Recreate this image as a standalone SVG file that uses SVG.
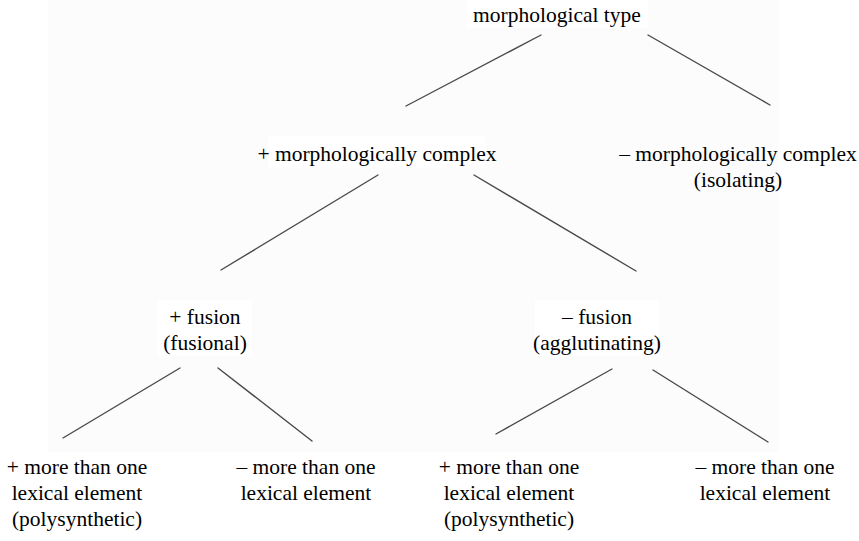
<svg xmlns="http://www.w3.org/2000/svg" width="859" height="541" viewBox="0 0 859 541">
<rect width="859" height="541" fill="#ffffff"/>
<rect x="48" y="0" width="730" height="452" fill="#fcfcfc"/>
<g id="connectors" stroke="#4a4a4a" stroke-width="1.4" stroke-linecap="round">
<line x1="541" y1="35" x2="406" y2="106"/>
<line x1="648" y1="35" x2="770" y2="105"/>
<line x1="378" y1="175" x2="221" y2="270"/>
<line x1="474" y1="175" x2="636" y2="271"/>
<line x1="180" y1="368" x2="63" y2="438"/>
<line x1="218" y1="368" x2="312" y2="441"/>
<line x1="612" y1="369" x2="496" y2="434"/>
<line x1="653" y1="370" x2="768" y2="442"/>
</g>
<g id="root"><rect fill="#ffffff" x="466" y="0" width="182" height="28"/><text font-family="Liberation Serif" font-size="21.5" text-anchor="middle" x="557" y="22">morphological type</text></g>
<g id="plus-complex"><rect fill="#ffffff" x="268" y="136" width="218" height="32"/><text font-family="Liberation Serif" font-size="21.5" text-anchor="middle" x="377" y="161">+ morphologically complex</text></g>
<g id="minus-complex"><text font-family="Liberation Serif" font-size="21.5" text-anchor="middle" x="738" y="161">&#8211; morphologically complex</text><text font-family="Liberation Serif" font-size="21.5" text-anchor="middle" x="738" y="187">(isolating)</text></g>
<g id="plus-fusion"><rect fill="#ffffff" x="158" y="300" width="94" height="56"/><text font-family="Liberation Serif" font-size="21.5" text-anchor="middle" x="205" y="324">+ fusion</text><text font-family="Liberation Serif" font-size="21.5" text-anchor="middle" x="205" y="350">(fusional)</text></g>
<g id="minus-fusion"><rect fill="#ffffff" x="535" y="300" width="124" height="56"/><text font-family="Liberation Serif" font-size="21.5" text-anchor="middle" x="597" y="324">&#8211; fusion</text><text font-family="Liberation Serif" font-size="21.5" text-anchor="middle" x="597" y="350">(agglutinating)</text></g>
<g id="fus-plus-lex"><text font-family="Liberation Serif" font-size="21.5" text-anchor="middle" x="77" y="474">+ more than one</text><text font-family="Liberation Serif" font-size="21.5" text-anchor="middle" x="77" y="500">lexical element</text><text font-family="Liberation Serif" font-size="21.5" text-anchor="middle" x="77" y="526">(polysynthetic)</text></g>
<g id="fus-minus-lex"><text font-family="Liberation Serif" font-size="21.5" text-anchor="middle" x="306" y="474">&#8211; more than one</text><text font-family="Liberation Serif" font-size="21.5" text-anchor="middle" x="306" y="500">lexical element</text></g>
<g id="agg-plus-lex"><text font-family="Liberation Serif" font-size="21.5" text-anchor="middle" x="509" y="474">+ more than one</text><text font-family="Liberation Serif" font-size="21.5" text-anchor="middle" x="509" y="500">lexical element</text><text font-family="Liberation Serif" font-size="21.5" text-anchor="middle" x="509" y="526">(polysynthetic)</text></g>
<g id="agg-minus-lex"><text font-family="Liberation Serif" font-size="21.5" text-anchor="middle" x="765" y="474">&#8211; more than one</text><text font-family="Liberation Serif" font-size="21.5" text-anchor="middle" x="765" y="500">lexical element</text></g>
</svg>
